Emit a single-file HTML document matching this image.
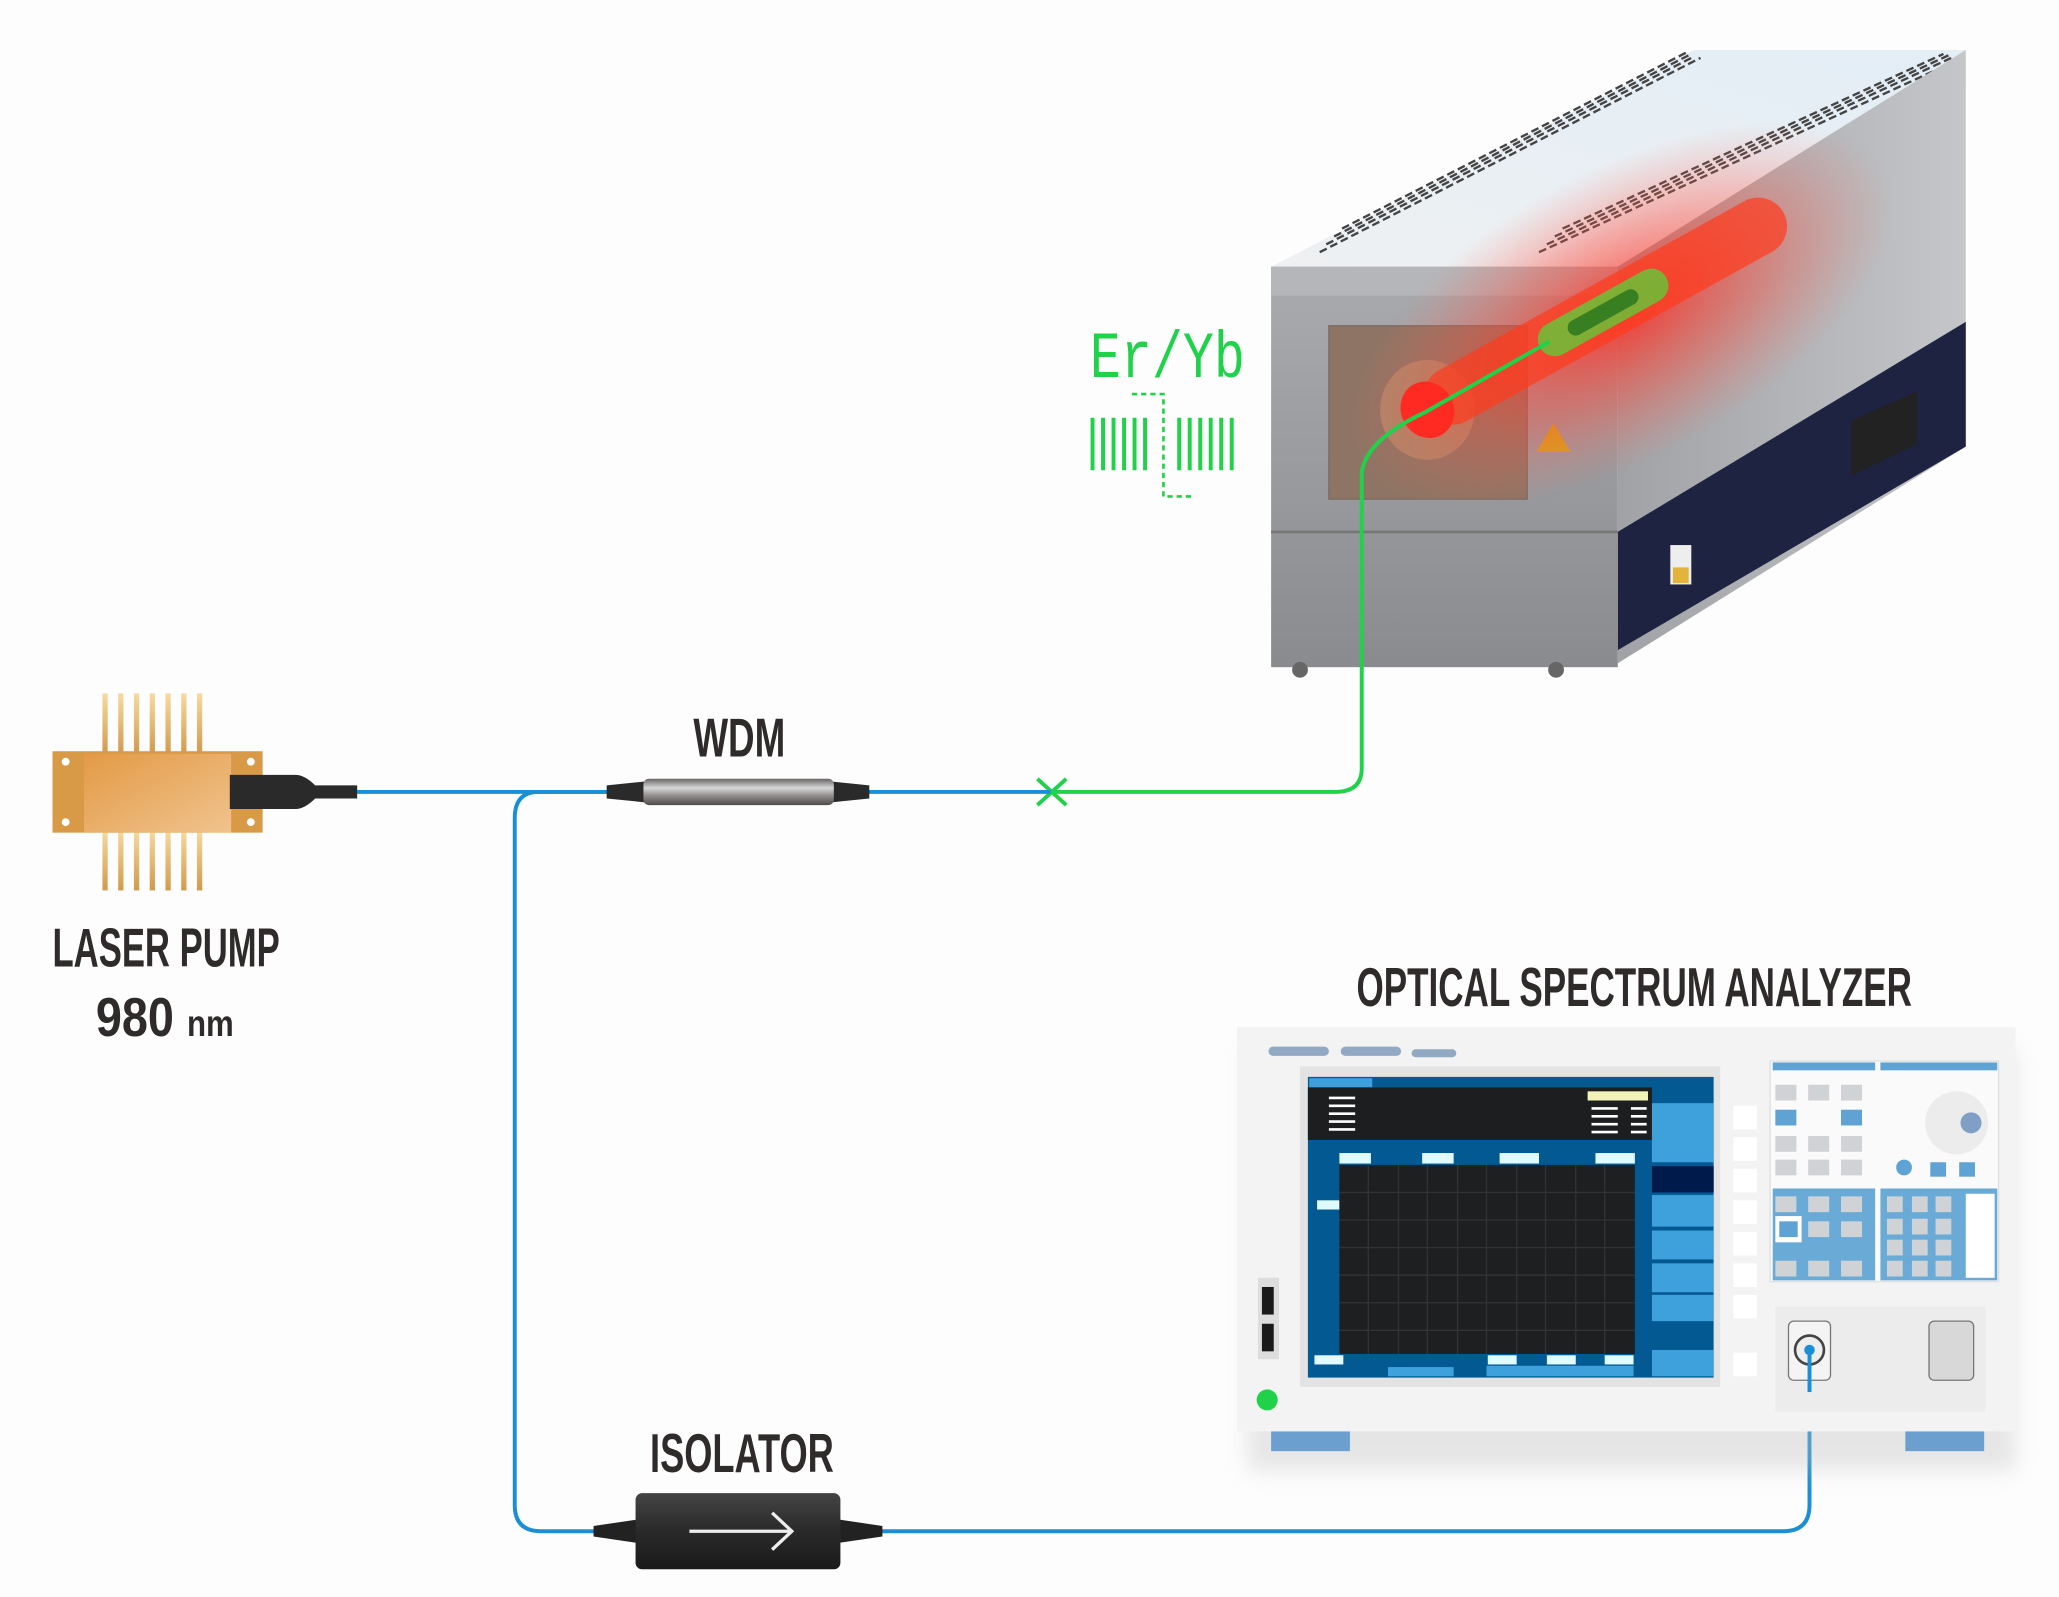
<!DOCTYPE html>
<html><head><meta charset="utf-8"><style>
html,body{margin:0;padding:0;background:#fdfdfd;}
svg{display:block}
.lbl{font-family:"Liberation Sans Narrow","Liberation Sans",sans-serif;font-weight:bold;fill:#2f2b2b;}
</style></head><body>
<svg width="2059" height="1597" viewBox="0 0 1568 1216" xmlns="http://www.w3.org/2000/svg">
<defs>
<linearGradient id="gold" x1="0" y1="0" x2="1" y2="1"><stop offset="0" stop-color="#e39a45"/><stop offset="1" stop-color="#f0c38e"/></linearGradient>
<linearGradient id="pin" x1="0" y1="0" x2="0" y2="1"><stop offset="0" stop-color="#f6dba0"/><stop offset="1" stop-color="#d19a4a"/></linearGradient>
<linearGradient id="metal" x1="0" y1="0" x2="0" y2="1"><stop offset="0" stop-color="#6a6565"/><stop offset="0.35" stop-color="#d8d8d8"/><stop offset="0.6" stop-color="#9a9696"/><stop offset="1" stop-color="#4e4a4a"/></linearGradient>
<linearGradient id="iso" x1="0" y1="0" x2="0" y2="1"><stop offset="0" stop-color="#444"/><stop offset="0.5" stop-color="#2a2a2a"/><stop offset="1" stop-color="#1a1a1a"/></linearGradient>
<linearGradient id="front" x1="0" y1="0" x2="0" y2="1"><stop offset="0" stop-color="#a9abaf"/><stop offset="1" stop-color="#898b8f"/></linearGradient>
<linearGradient id="side" x1="0" y1="0" x2="1" y2="0"><stop offset="0" stop-color="#a0a2a6"/><stop offset="1" stop-color="#c4c6c9"/></linearGradient>
<linearGradient id="top" x1="0" y1="1" x2="1" y2="0"><stop offset="0" stop-color="#eef0f2"/><stop offset="1" stop-color="#e3eef6"/></linearGradient>
<radialGradient id="glow" cx="0.5" cy="0.5" r="0.5"><stop offset="0" stop-color="#ff2a20" stop-opacity="0.85"/><stop offset="0.55" stop-color="#ff4a3a" stop-opacity="0.4"/><stop offset="1" stop-color="#ff6a5a" stop-opacity="0"/></radialGradient>
<filter id="sh" x="-10%" y="-10%" width="120%" height="130%"><feGaussianBlur stdDeviation="8"/></filter>
</defs>

<!-- ===== Furnace ===== -->
<polygon points="968,203 1290,38 1497,38 1232,203" fill="url(#top)"/>
<g stroke="#444" stroke-width="1.8" stroke-dasharray="6,3">
<line x1="1005" y1="192" x2="1295" y2="44"/><line x1="1010" y1="186" x2="1290" y2="43"/>
<line x1="1016" y1="180" x2="1288" y2="41"/><line x1="1022" y1="174" x2="1284" y2="40"/>
<line x1="1172" y1="192" x2="1490" y2="46"/><line x1="1178" y1="186" x2="1486" y2="44"/>
<line x1="1184" y1="180" x2="1484" y2="42"/><line x1="1190" y1="174" x2="1480" y2="41"/>
</g>
<polygon points="1232,203 1497,38 1497,340 1232,505" fill="url(#side)"/>
<polygon points="1232,405 1497,245 1497,340 1232,495" fill="#1e2341"/>
<polygon points="1410,320 1460,298 1460,338 1410,362" fill="#222"/>
<rect x="1272" y="415" width="16" height="30" fill="#eee"/><rect x="1274" y="432" width="12" height="12" fill="#e2b53a"/>
<rect x="968" y="203" width="264" height="305" fill="url(#front)"/>
<rect x="968" y="203" width="264" height="22" fill="#b4b6ba"/>
<line x1="968" y1="405" x2="1232" y2="405" stroke="#777" stroke-width="2"/>
<rect x="1012" y="248" width="151" height="132" fill="#8e7464" stroke="#7a6a60"/>
<ellipse cx="1087" cy="312" rx="36" ry="38" fill="#b58a6a" opacity="0.8"/>
<polygon points="1170,344 1196,344 1183,322" fill="#d4a619"/>
<circle cx="990" cy="510" r="6" fill="#666"/><circle cx="1185" cy="510" r="6" fill="#666"/>
<ellipse cx="1235" cy="240" rx="230" ry="110" transform="rotate(-29 1235 240)" fill="url(#glow)"/>
<g transform="rotate(-29 1087 312)">
<rect x="1087" y="290" width="310" height="44" rx="22" fill="#ff3a1c" opacity="0.7"/>
<ellipse cx="1087" cy="312" rx="20" ry="22" fill="#ff2b22"/>
<rect x="1185" y="299" width="110" height="26" rx="13" fill="#57d33a" opacity="0.75"/>
<rect x="1210" y="306" width="60" height="12" rx="6" fill="#1a6b1a" opacity="0.7"/>
</g>

<!-- ===== Fibers ===== -->
<path d="M1180,260 L1085,314 Q1040,335 1037,360 V585 Q1037,603 1017,603 H800" fill="none" stroke="#1fd24a" stroke-width="3"/>
<path d="M790,593 L812,613 M812,593 L790,613" stroke="#1fd24a" stroke-width="3"/>
<path d="M272,603 H800" stroke="#1a8fd6" stroke-width="3"/>
<path d="M462,603 H410 Q392,603 392,623 V1146 Q392,1166 412,1166 H672 H1358 Q1378,1166 1378,1146 V1028" fill="none" stroke="#1a8fd6" stroke-width="3"/>

<!-- Er/Yb -->
<text x="830" y="287" font-family="Liberation Mono,monospace" font-size="50" fill="#1fd24a" textLength="118" lengthAdjust="spacingAndGlyphs">Er/Yb</text>
<g stroke="#1fd24a" stroke-width="3">
<line x1="832" y1="318" x2="832" y2="358"/><line x1="840" y1="318" x2="840" y2="358"/><line x1="848" y1="318" x2="848" y2="358"/><line x1="856" y1="318" x2="856" y2="358"/><line x1="864" y1="318" x2="864" y2="358"/><line x1="872" y1="318" x2="872" y2="358"/>
<line x1="898" y1="318" x2="898" y2="358"/><line x1="906" y1="318" x2="906" y2="358"/><line x1="914" y1="318" x2="914" y2="358"/><line x1="922" y1="318" x2="922" y2="358"/><line x1="930" y1="318" x2="930" y2="358"/><line x1="938" y1="318" x2="938" y2="358"/>
</g>
<path d="M862,300 H886 V378 H908" fill="none" stroke="#1fd24a" stroke-width="2" stroke-dasharray="4,3"/>

<!-- ===== Laser pump ===== -->
<g fill="url(#pin)">
<rect x="78" y="528" width="4" height="46"/><rect x="90" y="528" width="4" height="46"/><rect x="102" y="528" width="4" height="46"/><rect x="114" y="528" width="4" height="46"/><rect x="126" y="528" width="4" height="46"/><rect x="138" y="528" width="4" height="46"/><rect x="150" y="528" width="4" height="46"/>
<rect x="78" y="632" width="4" height="46"/><rect x="90" y="632" width="4" height="46"/><rect x="102" y="632" width="4" height="46"/><rect x="114" y="632" width="4" height="46"/><rect x="126" y="632" width="4" height="46"/><rect x="138" y="632" width="4" height="46"/><rect x="150" y="632" width="4" height="46"/>
</g>
<rect x="40" y="572" width="160" height="62" fill="#d99a48"/>
<rect x="64" y="574" width="112" height="60" fill="url(#gold)"/>
<circle cx="50" cy="580" r="3" fill="#fff"/><circle cx="50" cy="626" r="3" fill="#fff"/><circle cx="191" cy="580" r="3" fill="#fff"/><circle cx="191" cy="626" r="3" fill="#fff"/>
<path d="M175,590 H225 Q232,590 240,598 H272 V608 H240 Q232,616 225,616 H175 Z" fill="#2a2a2a"/>
<text class="lbl" x="40" y="736" font-size="42" textLength="173" lengthAdjust="spacingAndGlyphs">LASER PUMP</text>
<text class="lbl" x="73" y="789" font-size="42" textLength="105" lengthAdjust="spacingAndGlyphs">980 <tspan font-size="28">nm</tspan></text>

<!-- ===== WDM ===== -->
<path d="M462,598 L492,595 V611 L462,608 Z" fill="#2a2a2a"/>
<path d="M632,595 L662,598 V608 L632,611 Z" fill="#2a2a2a"/>
<rect x="490" y="593" width="145" height="20" rx="4" fill="url(#metal)"/>
<text class="lbl" x="528" y="576" font-size="42" textLength="70" lengthAdjust="spacingAndGlyphs">WDM</text>

<!-- ===== Isolator ===== -->
<path d="M452,1162 L486,1157 V1175 L452,1170 Z" fill="#222"/>
<path d="M638,1157 L672,1162 V1170 L638,1175 Z" fill="#222"/>
<rect x="484" y="1137" width="156" height="58" rx="5" fill="url(#iso)"/>
<path d="M525,1166 H602 M588,1152 L603,1166 L588,1180" fill="none" stroke="#eee" stroke-width="2.5"/>
<text class="lbl" x="495" y="1121" font-size="42" textLength="140" lengthAdjust="spacingAndGlyphs">ISOLATOR</text>

<!-- ===== OSA ===== -->
<text class="lbl" x="1033" y="766" font-size="42" textLength="423" lengthAdjust="spacingAndGlyphs">OPTICAL SPECTRUM ANALYZER</text>
<rect x="950" y="800" width="585" height="320" fill="#bbb" opacity="0.35" filter="url(#sh)"/>
<rect x="942" y="782" width="593" height="308" fill="#f3f3f3"/>
<rect x="966" y="797" width="46" height="7" rx="3.5" fill="#92a9c4"/><rect x="1021" y="797" width="46" height="7" rx="3.5" fill="#92a9c4"/><rect x="1075" y="799" width="34" height="6" rx="3" fill="#92a9c4"/>
<rect x="968" y="1090" width="60" height="15" fill="#6a9fcf"/><rect x="1451" y="1090" width="60" height="15" fill="#6a9fcf"/>
<rect x="990" y="812" width="320" height="244" fill="#e3e3e3"/>
<rect x="996" y="820" width="309" height="229" fill="#035a93"/>
<rect x="997" y="821" width="48" height="7" fill="#3fa1dc"/>
<rect x="996" y="828" width="262" height="40" fill="#1c1e20"/>
<rect x="1209" y="831" width="46" height="7" fill="#f1f3b8"/>
<g stroke="#fff" stroke-width="2">
<path d="M1012,836 H1032 M1012,842 H1032 M1012,848 H1032 M1012,854 H1032 M1012,860 H1032"/>
<path d="M1212,844 H1232 M1212,850 H1232 M1212,856 H1232 M1212,862 H1232 M1242,844 H1254 M1242,850 H1254 M1242,856 H1254 M1242,862 H1254"/>
</g>
<g fill="#dffbff">
<rect x="1020" y="878" width="24" height="8"/><rect x="1083" y="878" width="24" height="8"/><rect x="1142" y="878" width="30" height="8"/><rect x="1215" y="878" width="30" height="8"/>
<rect x="1003" y="914" width="17" height="7"/><rect x="1001" y="1032" width="22" height="7"/>
<rect x="1133" y="1032" width="22" height="7"/><rect x="1178" y="1032" width="22" height="7"/><rect x="1222" y="1032" width="22" height="7"/>
</g>
<rect x="1020" y="887" width="225" height="144" fill="#1e1f21"/>
<g stroke="#333" stroke-width="1">
<path d="M1042,887V1031M1065,887V1031M1087,887V1031M1110,887V1031M1132,887V1031M1155,887V1031M1177,887V1031M1200,887V1031M1222,887V1031"/>
<path d="M1020,908H1245M1020,929H1245M1020,950H1245M1020,971H1245M1020,992H1245M1020,1013H1245"/>
</g>
<rect x="1057" y="1041" width="50" height="7" fill="#3fa1dc"/>
<g fill="#3fa1dc"><rect x="1132" y="1040" width="112" height="8"/></g>
<g fill="#3fa1dc">
<rect x="1258" y="840" width="47" height="25"/><rect x="1258" y="865" width="47" height="20"/>
<rect x="1258" y="910" width="47" height="24"/><rect x="1258" y="937" width="47" height="22"/><rect x="1258" y="962" width="47" height="22"/><rect x="1258" y="986" width="47" height="20"/><rect x="1258" y="1028" width="47" height="20"/>
</g>
<rect x="1258" y="888" width="47" height="20" fill="#001a4c"/>
<g fill="#fff"><rect x="1320" y="842" width="18" height="18"/><rect x="1320" y="866" width="18" height="18"/><rect x="1320" y="890" width="18" height="18"/><rect x="1320" y="914" width="18" height="18"/><rect x="1320" y="938" width="18" height="18"/><rect x="1320" y="962" width="18" height="18"/><rect x="1320" y="986" width="18" height="18"/><rect x="1320" y="1030" width="18" height="18"/></g>
<rect x="958" y="973" width="16" height="62" fill="#ddd"/><rect x="961" y="980" width="9" height="21" fill="#1a1a1a"/><rect x="961" y="1008" width="9" height="21" fill="#1a1a1a"/>
<circle cx="965" cy="1066" r="8" fill="#1fd24a"/>
<rect x="1348" y="808" width="174" height="168" fill="#fafafa" stroke="#e0e0e0"/>
<rect x="1350" y="809" width="78" height="6" fill="#5ea3d3"/><rect x="1432" y="809" width="89" height="6" fill="#5ea3d3"/>
<rect x="1350" y="905" width="78" height="70" fill="#6aaad6"/><rect x="1432" y="905" width="89" height="70" fill="#6aaad6"/>
<g fill="#cfd3d6"><rect x="1352" y="826" width="16" height="12"/><rect x="1377" y="826" width="16" height="12"/><rect x="1402" y="826" width="16" height="12"/>
<rect x="1352" y="865" width="16" height="12"/><rect x="1377" y="865" width="16" height="12"/><rect x="1402" y="865" width="16" height="12"/>
<rect x="1352" y="883" width="16" height="12"/><rect x="1377" y="883" width="16" height="12"/><rect x="1402" y="883" width="16" height="12"/>
<rect x="1352" y="911" width="16" height="12"/><rect x="1377" y="911" width="16" height="12"/><rect x="1402" y="911" width="16" height="12"/>
<rect x="1377" y="930" width="16" height="12"/><rect x="1402" y="930" width="16" height="12"/>
<rect x="1352" y="960" width="16" height="12"/><rect x="1377" y="960" width="16" height="12"/><rect x="1402" y="960" width="16" height="12"/>
<rect x="1437" y="911" width="12" height="12"/><rect x="1456" y="911" width="12" height="12"/><rect x="1474" y="911" width="12" height="12"/>
<rect x="1437" y="928" width="12" height="12"/><rect x="1456" y="928" width="12" height="12"/><rect x="1474" y="928" width="12" height="12"/>
<rect x="1437" y="944" width="12" height="12"/><rect x="1456" y="944" width="12" height="12"/><rect x="1474" y="944" width="12" height="12"/>
<rect x="1437" y="960" width="12" height="12"/><rect x="1456" y="960" width="12" height="12"/><rect x="1474" y="960" width="12" height="12"/></g>
<rect x="1497" y="909" width="22" height="64" fill="#fff"/>
<rect x="1352" y="926" width="20" height="20" fill="#fff"/>
<g fill="#5ea3d3"><rect x="1352" y="845" width="16" height="12"/><rect x="1402" y="845" width="16" height="12"/><rect x="1470" y="885" width="12" height="11"/><rect x="1492" y="885" width="12" height="11"/><circle cx="1450" cy="889" r="6"/><rect x="1355" y="930" width="14" height="12"/></g>
<circle cx="1490" cy="855" r="24" fill="#ececec"/><circle cx="1501" cy="855" r="8" fill="#7f9fc4"/>
<rect x="1352" y="995" width="160" height="80" fill="#ececec"/>
<rect x="1362" y="1006" width="32" height="45" rx="4" fill="#f4f4f4" stroke="#777"/>
<circle cx="1378" cy="1028" r="11" fill="#eee" stroke="#444" stroke-width="2"/><circle cx="1378" cy="1028" r="4" fill="#1a8fd6"/>
<rect x="1469" y="1006" width="34" height="45" rx="4" fill="#d8d8d8" stroke="#777"/>
<path d="M1378,1030 V1060" stroke="#1a8fd6" stroke-width="3"/>
</svg>
</body></html>
